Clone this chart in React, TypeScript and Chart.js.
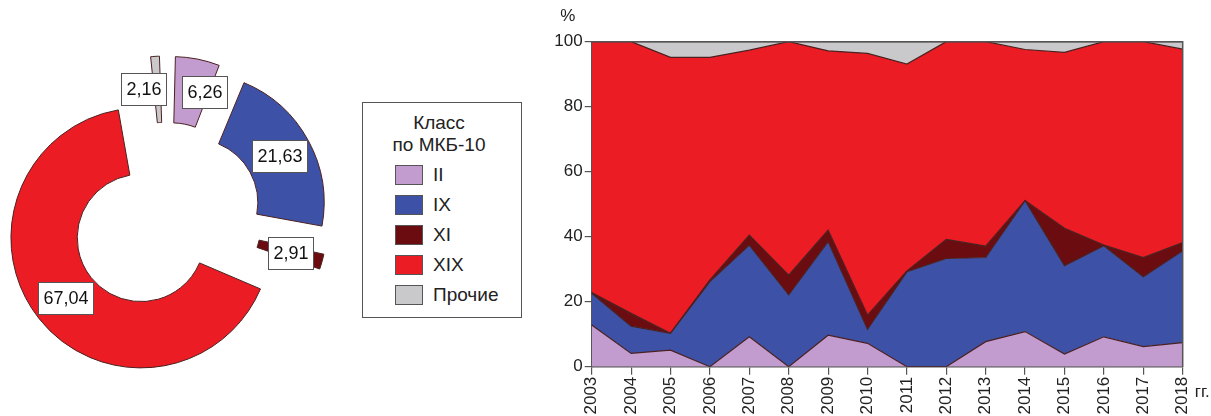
import React, { useEffect, useRef } from "react";
import { Chart, registerables } from "chart.js";

Chart.register(...registerables);

const FONT = '"Liberation Sans", Arial, Helvetica, sans-serif';

// ---- data ----
const classLabels = ["II", "IX", "XI", "XIX", "Прочие"];
const classColors = ["#c39ccf", "#3d52a6", "#6b0d10", "#ec1c24", "#c9c9cb"];
const pieShares = [6.26, 21.63, 2.91, 67.04, 2.16];

const years = [
  "2003", "2004", "2005", "2006", "2007", "2008", "2009", "2010",
  "2011", "2012", "2013", "2014", "2015", "2016", "2017", "2018",
];
const shareII = [12.8, 4.1, 5.1, 0, 9.2, 0, 9.7, 7.2, 0, 0, 7.7, 10.8, 3.9, 9.2, 6.2, 7.4];
const shareIX = [9.8, 8.4, 5.2, 26.2, 28.2, 22.1, 28.8, 4.3, 29.2, 33.3, 25.9, 40.3, 27.2, 28.0, 21.5, 28.3];
const shareXI = [0.2, 3.9, 0, 0.5, 3.1, 6.1, 3.5, 4.4, 0.3, 5.9, 3.5, 0, 11.5, 0.2, 5.9, 2.5];
const shareXIX = [77.2, 83.6, 84.9, 68.5, 56.9, 71.8, 55.2, 80.5, 63.6, 60.8, 62.9, 46.5, 54.1, 62.6, 66.4, 59.5];
const shareOther = [0, 0, 4.8, 4.8, 2.6, 0, 2.8, 3.6, 6.9, 0, 0, 2.4, 3.3, 0, 0, 2.3];
const yTicks = [0, 20, 40, 60, 80, 100];
const yUnit = "%";
const xUnit = "гг.";

const OUTLINE = "#4b2020";
const AXIS = "#555555";

function Donut() {
  const ref = useRef<HTMLCanvasElement>(null);
  useEffect(() => {
    if (!ref.current) return;
    const OFFSET = 128;
    const isV3 = String((Chart as any).version || "4").startsWith("3");
    const shift = OFFSET / (isV3 ? 2 : 4);

    const fixRadii = {
      id: "fixRadii",
      afterDatasetsUpdate(chart: any) {
        const meta = chart.getDatasetMeta(0);
        const ctrl = meta.controller;
        meta.data.forEach((el: any) => {
          const circ = el.endAngle - el.startAngle;
          const ro = shift * (1 - Math.sin(Math.min(Math.PI, circ)));
          el.outerRadius = ctrl.outerRadius - ro;
          el.innerRadius = ctrl.innerRadius - ro;
        });
      },
    };

    const labelBoxes = {
      id: "labelBoxes",
      afterDatasetsDraw(chart: any) {
        const { ctx } = chart;
        const meta = chart.getDatasetMeta(0);
        const ctrl = meta.controller;
        const dist = shift + (ctrl.outerRadius + ctrl.innerRadius) / 2;
        ctx.save();
        ctx.font = `18px ${FONT}`;
        const boxes = meta.data.map((el: any, i: number) => {
          const a = (el.startAngle + el.endAngle) / 2;
          const text = pieShares[i].toFixed(2).replace(".", ",");
          return {
            x: el.x + Math.cos(a) * dist,
            y: el.y + Math.sin(a) * dist,
            w: ctx.measureText(text).width + 10,
            h: 32,
            text,
          };
        });
        const GAP = 16;
        for (let i = 0; i < boxes.length; i++) {
          for (let j = i + 1; j < boxes.length; j++) {
            const A = boxes[i];
            const B = boxes[j];
            if (Math.abs(A.y - B.y) < (A.h + B.h) / 2) {
              const need = (A.w + B.w) / 2 + GAP - Math.abs(A.x - B.x);
              if (need > 0) {
                const s = A.x < B.x ? -1 : 1;
                A.x += (s * need) / 2;
                B.x -= (s * need) / 2;
              }
            }
          }
        }
        boxes.forEach((b: any) => {
          const l = Math.round(b.x - b.w / 2) + 0.5;
          const t = Math.round(b.y - b.h / 2) + 0.5;
          ctx.fillStyle = "#ffffff";
          ctx.fillRect(l, t, Math.round(b.w), b.h);
          ctx.strokeStyle = AXIS;
          ctx.lineWidth = 1;
          ctx.strokeRect(l, t, Math.round(b.w), b.h);
          ctx.fillStyle = "#111111";
          ctx.textAlign = "center";
          ctx.textBaseline = "middle";
          ctx.fillText(b.text, l + Math.round(b.w) / 2, t + b.h / 2 + 1);
        });
        ctx.restore();
      },
    };

    const chart = new Chart(ref.current, {
      type: "doughnut",
      data: {
        labels: classLabels,
        datasets: [
          {
            data: pieShares,
            backgroundColor: classColors,
            borderColor: OUTLINE,
            borderWidth: 1,
            offset: OFFSET,
            hoverOffset: 0,
          } as any,
        ],
      },
      options: {
        animation: false,
        responsive: false,
        maintainAspectRatio: false,
        radius: 130,
        cutout: "49%",
        layout: { padding: { top: 20, right: 8, bottom: 0, left: 0 } },
        plugins: { legend: { display: false }, tooltip: { enabled: false } },
      } as any,
      plugins: [fixRadii, labelBoxes],
    });
    return () => chart.destroy();
  }, []);
  return (
    <canvas
      ref={ref}
      width={340}
      height={416}
      style={{ position: "absolute", left: 0, top: 0, width: 340, height: 416 }}
    />
  );
}

function Area() {
  const ref = useRef<HTMLCanvasElement>(null);
  useEffect(() => {
    if (!ref.current) return;
    const frame = {
      id: "frame",
      afterDatasetsDraw(chart: any) {
        const { ctx, chartArea } = chart;
        ctx.save();
        ctx.strokeStyle = AXIS;
        ctx.lineWidth = 1.5;
        ctx.beginPath();
        ctx.moveTo(chartArea.left, chartArea.top);
        ctx.lineTo(chartArea.right, chartArea.top);
        ctx.lineTo(chartArea.right, chartArea.bottom);
        ctx.stroke();
        ctx.fillStyle = "#222222";
        ctx.font = `17px ${FONT}`;
        ctx.textAlign = "center";
        ctx.textBaseline = "alphabetic";
        ctx.fillText(yUnit, chartArea.left - 24, chartArea.top - 21);
        ctx.textAlign = "left";
        ctx.fillText(xUnit, chartArea.right + 12, chartArea.bottom + 30);
        ctx.restore();
      },
    };
    const series = [shareII, shareIX, shareXI, shareXIX, shareOther];
    const chart = new Chart(ref.current, {
      type: "line",
      data: {
        labels: years,
        datasets: series.map((d, i) => ({
          label: classLabels[i],
          data: d,
          backgroundColor: classColors[i],
          borderColor: OUTLINE,
          borderWidth: 1.2,
          pointRadius: 0,
          tension: 0,
          fill: i === 0 ? "origin" : "-1",
        })),
      },
      options: {
        animation: false,
        responsive: false,
        maintainAspectRatio: false,
        layout: { padding: { top: 41.7, right: 28.3, bottom: 0, left: 0 } },
        plugins: { legend: { display: false }, tooltip: { enabled: false } },
        scales: {
          x: {
            type: "category",
            offset: false,
            grid: { display: true, drawOnChartArea: false, drawTicks: true, tickLength: 8, color: AXIS, lineWidth: 1.2 },
            border: { display: true, color: AXIS, width: 1.5 },
            ticks: {
              autoSkip: false,
              minRotation: 90,
              maxRotation: 90,
              padding: 2,
              color: "#222222",
              font: { family: FONT, size: 17 },
            },
            afterFit: (s: any) => {
              s.height = 49.3;
            },
          },
          y: {
            stacked: true,
            min: 0,
            max: 100,
            afterBuildTicks: (s: any) => {
              s.ticks = yTicks.map((v) => ({ value: v }));
            },
            grid: { display: true, drawOnChartArea: false, drawTicks: true, tickLength: 7, color: AXIS, lineWidth: 1.2 },
            border: { display: true, color: AXIS, width: 1.5 },
            ticks: {
              padding: 2,
              color: "#222222",
              font: { family: FONT, size: 17 },
            },
            afterFit: (s: any) => {
              s.width = 51.7;
            },
          },
        },
      } as any,
      plugins: [frame],
    });
    return () => chart.destroy();
  }, []);
  return (
    <canvas
      ref={ref}
      width={671}
      height={416}
      style={{ position: "absolute", left: 540, top: 0, width: 671, height: 416 }}
    />
  );
}

function Legend() {
  return (
    <div
      style={{
        position: "absolute",
        left: 362,
        top: 102,
        width: 160,
        height: 216,
        border: `1.5px solid ${AXIS}`,
        boxSizing: "border-box",
        fontFamily: FONT,
        fontSize: 19,
        color: "#222",
      }}
    >
      <div
        style={{
          position: "absolute",
          left: 0,
          width: 152,
          top: 9,
          textAlign: "center",
          lineHeight: "22px",
        }}
      >
        Класс
        <br />
        по МКБ-10
      </div>
      {classLabels.map((l, i) => (
        <div
          key={l}
          style={{
            position: "absolute",
            left: 32,
            top: 61 + i * 30,
            height: 22,
            display: "flex",
            alignItems: "center",
            lineHeight: "22px",
          }}
        >
          <span
            style={{
              display: "inline-block",
              width: 28,
              height: 20,
              background: classColors[i],
              border: `1px solid ${AXIS}`,
              boxSizing: "border-box",
            }}
          />
          <span style={{ marginLeft: 10 }}>{l}</span>
        </div>
      ))}
    </div>
  );
}

export default function App() {
  return (
    <div
      style={{
        position: "fixed",
        left: 0,
        top: 0,
        width: 1211,
        height: 416,
        background: "#ffffff",
        overflow: "hidden",
      }}
    >
      <Donut />
      <Legend />
      <Area />
    </div>
  );
}
